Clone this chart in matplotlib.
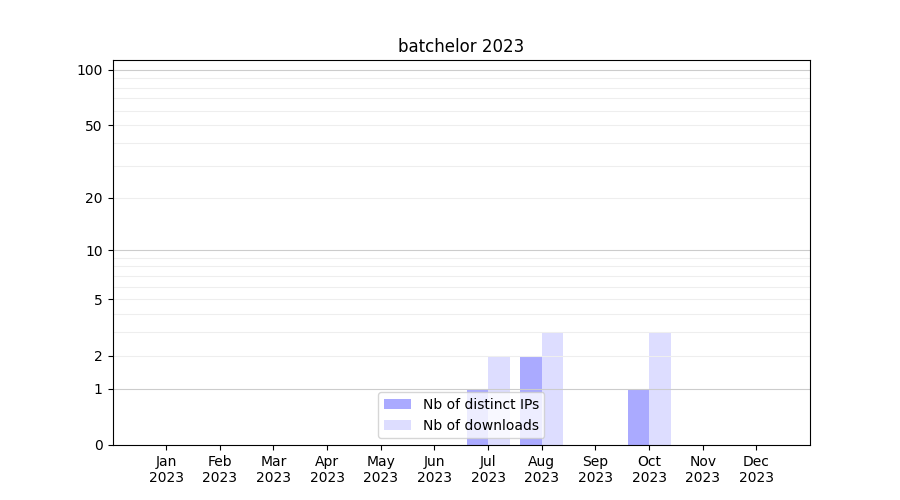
import numpy as np
from matplotlib import pyplot as plt
from matplotlib.ticker import FixedLocator, FixedFormatter

months = ["Jan", "Feb", "Mar", "Apr", "May", "Jun", "Jul", "Aug", "Sep", "Oct", "Nov", "Dec"]
year = "2023"
distinct_ips = [0, 0, 0, 0, 0, 0, 1, 2, 0, 1, 0, 0]
downloads = [0, 0, 0, 0, 0, 0, 2, 3, 0, 3, 0, 0]

x = np.arange(len(months))
w = 0.4

fig, ax = plt.subplots(figsize=(9, 5), dpi=100)
ax.set_yscale("function", functions=(lambda v: np.log10(1 + np.clip(v, 0, None)),
                                     lambda v: 10 ** v - 1))

ax.bar(x - w / 2, distinct_ips, width=w, color="#aaaaff", label="Nb of distinct IPs")
ax.bar(x + w / 2, downloads, width=w, color="#ddddff", label="Nb of downloads")

ax.set_xlim(-1, 12)
ax.set_ylim(0, 113)
ax.set_xticks(x)
ax.set_xticklabels([m + "\n" + year for m in months])

major = [1, 10, 100]
minor = [2, 3, 4, 5, 6, 7, 8, 9, 20, 30, 40, 50, 60, 70, 80, 90]
ax.yaxis.set_major_locator(FixedLocator([0, 1, 2, 5, 10, 20, 50, 100]))
ax.yaxis.set_major_formatter(FixedFormatter(["0", "1", "2", "5", "10", "20", "50", "100"]))
ax.yaxis.set_minor_locator(FixedLocator([]))

for v in major:
    ax.axhline(v, color="#cccccc", linewidth=0.8, zorder=1.5)
for v in minor:
    ax.axhline(v, color="#eeeeee", linewidth=0.8, zorder=1.5)

ax.set_title("batchelor 2023")
ax.legend(loc="lower center")
plt.savefig("out.png")
